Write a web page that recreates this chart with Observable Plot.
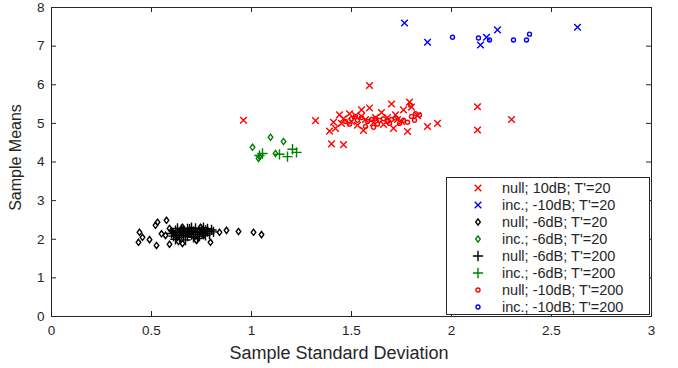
<!DOCTYPE html>
<html><head><meta charset="utf-8">
<script src="https://cdn.jsdelivr.net/npm/d3@7"></script>
<script src="https://cdn.jsdelivr.net/npm/@observablehq/plot@0.6"></script>
<style>body{margin:0;background:#fff} svg{display:block}</style>
</head><body><div id="chart"></div>
<script>
// ---- data (x = sample standard deviation, y = sample mean) ----
const xTicks = [0, 0.5, 1, 1.5, 2, 2.5, 3];
const yTicks = [0, 1, 2, 3, 4, 5, 6, 7, 8];
const xLabel = "Sample Standard Deviation";
const yLabel = "Sample Means";

const null10dB_T20 = [[0.96,5.08],[1.32,5.07],[1.59,5.98],[1.40,4.47],[1.46,4.45],[1.39,4.80],[1.42,4.87],[1.41,5.03],[1.45,5.00],[1.44,5.22],[1.49,5.25],[1.46,5.12],[1.52,5.20],[1.55,5.18],[1.56,4.82],[1.55,5.35],[1.59,5.40],[1.57,5.10],[1.61,5.02],[1.65,5.28],[1.66,4.97],[1.70,5.50],[1.71,4.87],[1.73,5.10],[1.76,5.35],[1.78,4.79],[1.79,5.55],[1.80,5.42],[1.72,5.22],[1.88,4.92],[1.93,5.00],[2.13,5.43],[2.13,4.83],[2.30,5.10],[1.62,5.15],[1.50,5.05],[1.68,5.15],[1.53,4.95],[1.83,5.20],[1.75,5.05]];
const inc10dB_T20 = [[1.765,7.60],[1.88,7.10],[2.145,7.03],[2.175,7.23],[2.23,7.42],[2.63,7.49]];
const null6dB_T20 = [[0.44,2.18],[0.435,1.92],[0.455,2.05],[0.49,1.99],[0.52,2.36],[0.53,2.44],[0.525,1.84],[0.575,2.49],[0.57,2.10],[0.59,2.28],[0.59,1.87],[0.61,2.15],[0.63,2.05],[0.635,1.94],[0.655,2.31],[0.655,1.89],[0.725,1.97],[0.745,2.31],[0.795,1.92],[0.84,2.18],[0.875,2.23],[0.935,2.20],[1.01,2.18],[1.05,2.12],[0.60,2.22],[0.68,2.12],[0.70,2.20],[0.76,2.10],[0.66,2.26],[0.55,2.14]];
const inc6dB_T20 = [[1.005,4.38],[1.095,4.64],[1.16,4.53],[1.035,4.09],[1.12,4.22],[1.04,4.14]];
const null6dB_T200 = [[0.60,2.15],[0.61,2.08],[0.62,2.22],[0.63,2.12],[0.64,2.18],[0.64,2.05],[0.65,2.25],[0.66,2.10],[0.66,2.20],[0.67,2.15],[0.68,2.08],[0.68,2.27],[0.69,2.18],[0.70,2.12],[0.70,2.22],[0.71,2.05],[0.72,2.17],[0.72,2.28],[0.73,2.12],[0.74,2.20],[0.74,2.08],[0.75,2.25],[0.76,2.15],[0.76,2.30],[0.77,2.10],[0.78,2.20],[0.78,2.27],[0.79,2.14],[0.80,2.24],[0.62,2.00],[0.67,1.98],[0.70,2.30],[0.73,2.02],[0.65,2.14],[0.69,2.26],[0.75,2.18],[0.71,2.20],[0.63,2.28],[0.77,2.23],[0.81,2.19]];
const inc6dB_T200 = [[1.055,4.22],[1.14,4.20],[1.18,4.14],[1.205,4.33],[1.225,4.25],[1.04,4.17]];
const null10dB_T200 = [[1.47,5.05],[1.50,5.12],[1.53,5.08],[1.55,5.15],[1.58,5.05],[1.60,5.10],[1.62,5.13],[1.64,5.08],[1.66,5.12],[1.68,5.05],[1.70,5.10],[1.72,5.14],[1.74,5.00],[1.76,5.08],[1.78,5.03],[1.80,5.18],[1.82,5.25],[1.84,5.22],[1.49,4.98],[1.57,4.92],[1.63,4.98],[1.69,5.00],[1.61,4.90],[1.795,5.47],[1.815,5.08],[1.52,5.18]];
const inc10dB_T200 = [[2.005,7.23],[2.135,7.21],[2.19,7.16],[2.31,7.16],[2.375,7.16],[2.39,7.31]];

const legendLabels = ["null; 10dB; T'=20","inc.; -10dB; T'=20","null; -6dB; T'=20","inc.; -6dB; T'=20","null; -6dB; T'=200","inc.; -6dB; T'=200","null; -10dB; T'=200","inc.; -10dB; T'=200"];
const seriesData = [null10dB_T20, inc10dB_T20, null6dB_T20, inc6dB_T20, null6dB_T200, inc6dB_T200, null10dB_T200, inc10dB_T200];
const seriesColors = ["#ff0000","#0000ff","#000000","#008000","#000000","#008000","#ff0000","#0000ff"];

// ---- styles ----
const diamondSym = {draw(ctx){ const w=2.3,h=3.1; ctx.moveTo(0,-h); ctx.lineTo(w,0); ctx.lineTo(0,h); ctx.lineTo(-w,0); ctx.closePath(); }};
const seriesSymbols = ["times","times",diamondSym,diamondSym,"plus","plus","circle","circle"];
const seriesR = [3.1,3.1,2,2,3.4,3.4,2,2];

const W = 678, H = 368, mL = 51, mR = 27, mT = 7, mB = 52;
const innerH = H - mT - mB, innerW = W - mL - mR;
const axisColor = "#262626";
const font = "'Liberation Sans', Arial, Helvetica, sans-serif";

const marks = [];
seriesData.forEach((d, i) => {
  marks.push(Plot.dot(d, {x: p => p[0], y: p => p[1], symbol: () => seriesSymbols[i], r: seriesR[i],
    stroke: seriesColors[i], fill: "none", strokeWidth: 1.4}));
});

const plot = Plot.plot({
  width: W, height: H, marginLeft: mL, marginRight: mR, marginTop: mT, marginBottom: mB,
  style: {fontFamily: font, fontSize: "14px", color: axisColor, background: "#fff"},
  x: {domain: [0, 3]},
  y: {domain: [0, 8]},
  symbol: {type: "identity"},
  marks: [
    ...marks,
    Plot.axisX(xTicks, {tickSize: 0, tickPadding: 9, label: null, tickFormat: d => String(d), fontSize: 13.5}),
    Plot.axisY(yTicks, {tickSize: 0, tickPadding: 7, label: null, tickFormat: d => String(d), fontSize: 13.5}),
    Plot.tickX(xTicks, {x: d => d, insetTop: innerH - 5, stroke: axisColor}),
    Plot.tickX(xTicks, {x: d => d, insetBottom: innerH - 5, stroke: axisColor}),
    Plot.tickY(yTicks, {y: d => d, insetRight: innerW - 5, stroke: axisColor}),
    Plot.tickY(yTicks, {y: d => d, insetLeft: innerW - 5, stroke: axisColor}),
    Plot.frame({stroke: axisColor, strokeWidth: 1})
  ]
});
document.getElementById("chart").appendChild(plot);

const svg = d3.select(plot);
const sx = plot.scale("x"), sy = plot.scale("y");
const x0 = sx.apply(0), x1 = sx.apply(3), y0 = sy.apply(0), y1 = sy.apply(8);

// axis titles
svg.append("text").attr("x", (x0 + x1) / 2 - 12).attr("y", H - 9)
  .attr("text-anchor", "middle").attr("fill", axisColor)
  .style("font-family", font).style("font-size", "18px").text(xLabel);
svg.append("text").attr("transform", `translate(${21},${(y0 + y1) / 2 - 4}) rotate(-90)`)
  .attr("text-anchor", "middle").attr("fill", axisColor)
  .style("font-family", font).style("font-size", "16px").text(yLabel);

// legend
const lgW = 203, lgH = 137, rowH = 17;
const lgX = x1 - 2 - lgW, lgY = y0 - 2 - lgH;
const lg = svg.append("g").attr("transform", `translate(${lgX},${lgY})`);
lg.append("rect").attr("x", 0.5).attr("y", 0.5).attr("width", lgW).attr("height", lgH)
  .attr("fill", "#fff").attr("stroke", axisColor).attr("stroke-width", 1);
legendLabels.forEach((lab, i) => {
  const cy = 11 + i * rowH;
  const sym = typeof seriesSymbols[i] === "string" ? d3["symbol" + seriesSymbols[i][0].toUpperCase() + seriesSymbols[i].slice(1)] : seriesSymbols[i];
  lg.append("path").attr("transform", `translate(32,${cy})`)
    .attr("d", d3.symbol(sym, Math.PI * seriesR[i] * seriesR[i])())
    .attr("fill", "none").attr("stroke", seriesColors[i]).attr("stroke-width", 1.4);
  lg.append("text").attr("x", 56).attr("y", cy).attr("dy", "0.35em").attr("fill", axisColor)
    .attr("text-anchor", "start")
    .style("font-family", font).style("font-size", "14.5px").text(lab);
});
</script>
</body></html>
